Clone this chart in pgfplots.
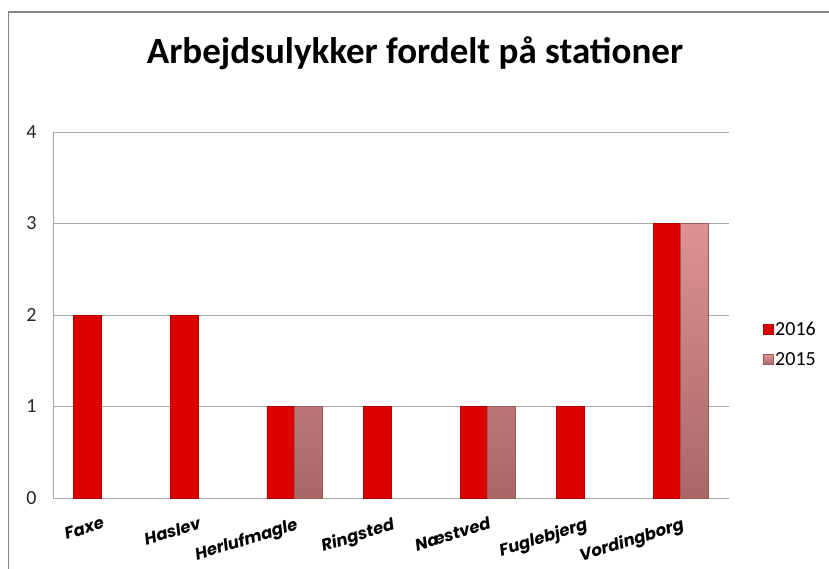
\documentclass[border=0pt]{standalone}
\usepackage{pgfplots}
\pgfplotsset{compat=1.18}
\usepackage{fontspec}
\setmainfont{Carlito}
\newfontfamily\poppins{Poppins}
\definecolor{redA}{RGB}{221,0,0}
\definecolor{redE}{RGB}{178,0,0}
\definecolor{pinkT}{RGB}{222,146,146}
\definecolor{pinkB}{RGB}{168,104,104}
\definecolor{pinkE}{RGB}{150,90,90}
\definecolor{gridc}{RGB}{166,166,166}
\begin{document}
\begin{tikzpicture}[x=1pt,y=1pt]
\useasboundingbox (0,0) rectangle (829,-568);
\draw[draw={rgb,255:red,134;green,134;blue,134}, line width=1.6pt] (8.5,-570) -- (8.5,-12) -- (832,-12);
\node[font=\fontsize{37}{40}\selectfont\bfseries] at (415,-53) {Arbejdsulykker fordelt på stationer};
\begin{axis}[
  at={(53pt,-498pt)}, anchor=south west,
  scale only axis, width=676pt, height=366pt,
  ymin=0, ymax=4, xmin=-0.5, xmax=6.5,
  ytick={0,1,2,3,4},
  xtick={0,...,6},
  xticklabels={Faxe,Haslev,Herlufmagle,Ringsted,N{\ae}stved,Fuglebjerg,Vordingborg},
  major tick length=0pt,
  ymajorgrids, grid style={gridc, line width=0.8pt},
  axis line style={gridc, line width=0.8pt},
  axis x line*=bottom, axis y line*=left,
  /pgf/number format/assume math mode=true,
  yticklabel style={font=\fontsize{20}{22}\selectfont, text=black!85, xshift=-13pt},
  xticklabel style={font=\poppins\fontsize{16.5}{18}\selectfont\bfseries\itshape, rotate=17, anchor=north east, inner sep=0pt, yshift=-18pt, xshift=-5pt},
  ybar=0pt, bar width=27.5pt,
  legend style={at={(1.045,0.42)}, anchor=west, draw=none, fill=none,
    font=\fontsize{20}{22}\selectfont, row sep=12pt,
    /tikz/every even column/.append style={column sep=4pt}},
  legend cell align=left,
  legend image code/.code={\draw[#1] (0pt,-5pt) rectangle (10pt,5pt);},
]
\addplot[draw=redE, line width=0.6pt, fill=redA]
  coordinates {(0,2) (1,2) (2,1) (3,1) (4,1) (5,1) (6,3)};
\addlegendentry{2016}
\addplot[draw=pinkE, line width=0.6pt, top color=pinkT, bottom color=pinkB]
  coordinates {(2,1) (4,1) (6,3)};
\addlegendentry{2015}
\end{axis}
\end{tikzpicture}
\end{document}
